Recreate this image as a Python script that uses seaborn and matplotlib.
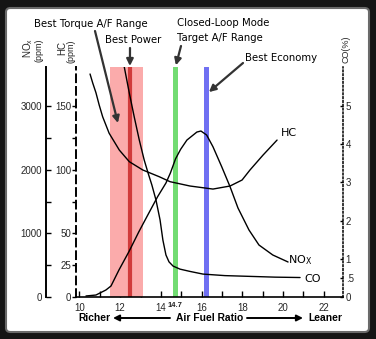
import numpy as np
import pandas as pd
import seaborn as sns
import matplotlib
matplotlib.use("Agg")
import matplotlib.pyplot as plt
from matplotlib.patches import FancyBboxPatch, FancyArrowPatch
from matplotlib.transforms import blended_transform_factory

# ---------------- data ----------------
hc_afr = [10.52, 10.65, 10.81, 10.97, 11.14, 11.46, 11.96, 12.45, 13.11, 13.92,
          14.45, 15.43, 16.56, 17.40, 17.99, 18.38, 19.02, 19.71]
hc_ppm = [175.2, 168.2, 160.5, 150.8, 141.6, 128.6, 115.4, 106.3, 99.8, 94.5,
          90.6, 87.2, 84.8, 87.2, 91.9, 99.8, 111.5, 123.3]

nox_afr = [10.32, 10.81, 11.30, 11.55, 11.94, 12.43, 12.92, 13.41, 13.84, 14.25,
           14.47, 14.72, 14.97, 15.28, 15.77, 15.97, 16.25, 16.56, 16.99, 17.40,
           17.79, 18.33, 18.82, 19.50, 20.25]
nox_ppm = [16, 31, 110, 173, 424, 712, 1026, 1320, 1576, 1791,
           1950, 2170, 2320, 2466, 2592, 2608, 2545, 2361, 2047, 1733,
           1398, 1053, 817, 660, 550]

co_afr = [12.20, 12.45, 12.69, 12.94, 13.18, 13.37, 13.56, 13.76, 13.96, 14.10,
          14.25, 14.40, 14.60, 14.94, 15.43, 16.07, 17.15, 18.38, 19.61, 20.84]
co_pct = [6.03, 5.34, 4.72, 4.11, 3.59, 3.25, 2.93, 2.54, 2.02, 1.49,
          1.10, 0.92, 0.81, 0.73, 0.67, 0.60, 0.56, 0.54, 0.52, 0.51]

x_major = [10, 12, 14, 16, 18, 20, 22]
hc_ticks = [0, 25, 50, 100, 150]
nox_ticks = [0, 1000, 2000, 3000]
co_ticks = [0, 0.5, 1, 2, 3, 4, 5]
co_ticklabels = ["0", ".5", "1", "2", "3", "4", "5"]

torque_range = (11.5, 13.1)
best_power = 12.5
closed_loop = 14.7
best_economy = 16.2

# ---------------- style ----------------
sns.set_style("white")
plt.rcParams["font.family"] = ["Liberation Sans", "DejaVu Sans"]
plt.rcParams["mathtext.fontset"] = "dejavusans"

W, H = 376, 339
fig = plt.figure(figsize=(W / 100, H / 100), dpi=100)
fig.patch.set_facecolor("#151515")
fig.patches.append(FancyBboxPatch((6 / W, 7 / H), (369 - 6) / W, (332 - 8) / H,
                                  boxstyle="round,pad=0,rounding_size=0.012",
                                  transform=fig.transFigure, facecolor="white",
                                  edgecolor="#6a6a6a", linewidth=1.5, zorder=-5))

ax = fig.add_axes([76 / W, 1 - 297 / H, (343 - 76) / W, (297 - 67) / H])
ax.patch.set_alpha(0)
ylim_hc = 180.7
ax.set_xlim(9.83, 22.95)
ax.set_ylim(0, ylim_hc)

ax_n = ax.twinx()
ax_n.set_ylim(0, ylim_hc * 20)
ax_c = ax.twinx()
ax_c.set_ylim(0, ylim_hc / 30)

# bands
ax.axvspan(*torque_range, color="#fbabab", lw=0, zorder=1)
ax.axvline(best_power, color="#d03b3b", lw=3.0, zorder=2)
ax.axvline(closed_loop, color="#72dc72", lw=3.6, zorder=2)
ax.axvline(best_economy, color="#7070f2", lw=3.6, zorder=2)

# curves
sns.lineplot(x=hc_afr, y=hc_ppm, ax=ax, color="black", lw=1.0, estimator=None, zorder=5)
sns.lineplot(x=nox_afr, y=nox_ppm, ax=ax_n, color="black", lw=1.0, estimator=None, zorder=5)
sns.lineplot(x=co_afr, y=co_pct, ax=ax_c, color="black", lw=1.0, estimator=None, zorder=5)

# ---- main axis (HC, dashed) ----
for s in ["top", "right"]:
    ax.spines[s].set_visible(False)
ax.spines["left"].set_linestyle((0, (4, 2.5)))
ax.spines["left"].set_linewidth(1.4)
ax.spines["bottom"].set_linewidth(1.2)
ax.spines["left"].set_color("black")
ax.spines["bottom"].set_color("black")
ax.set_xticks(x_major)
ax.set_xticks(list(range(10, 23)), minor=True)
ax.tick_params(axis="x", which="both", direction="in", length=4, width=1,
               labelsize=7, pad=4.5, color="black", bottom=True)
ax.set_yticks(hc_ticks)
ax.set_yticks([75, 125], minor=True)
ax.set_yticklabels([str(t) for t in hc_ticks])
ax.tick_params(axis="y", which="both", direction="out", length=3, width=1,
               labelsize=7, pad=0.5, color="black", left=True)
ax.set_xlabel("")
ax.set_ylabel("")

# ---- NOx axis ----
for s in ["top", "right", "bottom"]:
    ax_n.spines[s].set_visible(False)
ax_n.spines["left"].set_visible(True)
ax_n.spines["left"].set_position(("outward", 21.6))
ax_n.spines["left"].set_linewidth(1.4)
ax_n.spines["left"].set_color("black")
ax_n.yaxis.set_ticks_position("left")
ax_n.yaxis.set_label_position("left")
ax_n.set_yticks(nox_ticks)
ax_n.set_yticks([500, 1500, 2500], minor=True)
ax_n.set_yticklabels([str(t) for t in nox_ticks])
ax_n.tick_params(axis="y", which="both", direction="in", length=3.5, width=1,
                 labelsize=7, pad=3, color="black", left=True)
ax_n.set_ylabel("")

# ---- CO axis (dotted) ----
for s in ["top", "left", "bottom"]:
    ax_c.spines[s].set_visible(False)
ax_c.spines["right"].set_linestyle((0, (1, 1.5)))
ax_c.spines["right"].set_linewidth(1.1)
ax_c.spines["right"].set_color("black")
ax_c.set_yticks(co_ticks)
ax_c.set_yticklabels(co_ticklabels)
ax_c.tick_params(axis="y", which="both", direction="in", length=2.5, width=1,
                 labelsize=7, pad=2, color="black", right=True)
ax_c.set_ylabel("")

# 14.7 special label
tr = blended_transform_factory(ax.transData, ax.transAxes)
ax.text(closed_loop, -0.037, "14.7", transform=tr, ha="center", va="center",
        fontsize=5.5, fontweight="bold", color="#222222")

# axis titles
def ftext(x, y, s, **kw):
    fig.text(x / W, 1 - y / H, s, **kw)

ftext(28.5, 48, r"NO$_\mathregular{x}$", rotation=90, ha="center", va="center", fontsize=7)
ftext(38.5, 50, "(ppm)", rotation=90, ha="center", va="center", fontsize=6.5)
ftext(62, 48, "HC", rotation=90, ha="center", va="center", fontsize=7)
ftext(70.5, 51, "(ppm)", rotation=90, ha="center", va="center", fontsize=6.5)
ftext(346, 49, "CO(%)", rotation=90, ha="center", va="center", fontsize=6.5)

# annotations
ann = dict(family="DejaVu Sans", fontsize=7.3, color="black")
ftext(91, 24, "Best Torque A/F Range", ha="center", va="center", **ann)
ftext(133, 40, "Best Power", ha="center", va="center", **ann)
ftext(177, 23, "Closed-Loop Mode", ha="left", va="center", **ann)
ftext(177, 38, "Target A/F Range", ha="left", va="center", **ann)
ftext(281, 58, "Best Economy", ha="center", va="center", **ann)

arrow = dict(arrowstyle="-|>", color="#333333", lw=1.6, mutation_scale=10,
             shrinkA=0, shrinkB=0)
def arr(head_x, head_hc, tail_px):
    ax.annotate("", xy=(head_x, head_hc), xycoords="data",
                xytext=(tail_px[0], H - tail_px[1]), textcoords="figure pixels",
                arrowprops=arrow, annotation_clip=False)

arr(11.89, 136.7, (95, 31))
arr(12.48, 181.5, (130, 48))
arr(14.74, 182.0, (181, 46))
arr(16.36, 161.0, (243, 63))

# curve labels
lab = dict(family="DejaVu Sans", fontsize=8, color="black")
ax.text(19.88, 129, "HC", ha="left", va="center", **lab)
ax.text(20.25, 29, r"NO$_\mathrm{X}$", ha="left", va="center", **lab)
ax.text(21.03, 14.1, "CO", ha="left", va="center", **lab)

# bottom direction labels
bold = dict(fontsize=7.4, fontweight="bold", color="black")
ftext(78, 318, "Richer", ha="left", va="center", **bold)
ftext(210, 318, "Air Fuel Ratio", ha="center", va="center", **bold)
ftext(342, 318, "Leaner", ha="right", va="center", **bold)
barrow = dict(arrowstyle="-|>", color="black", lw=1.4, mutation_scale=9,
              shrinkA=0, shrinkB=0)
fig.add_artist(FancyArrowPatch((170 / W, 1 - 318 / H), (113 / W, 1 - 318 / H),
                               transform=fig.transFigure, **barrow))
fig.add_artist(FancyArrowPatch((247 / W, 1 - 318 / H), (303 / W, 1 - 318 / H),
                               transform=fig.transFigure, **barrow))

fig.savefig("out.png", dpi=100, facecolor=fig.get_facecolor())
